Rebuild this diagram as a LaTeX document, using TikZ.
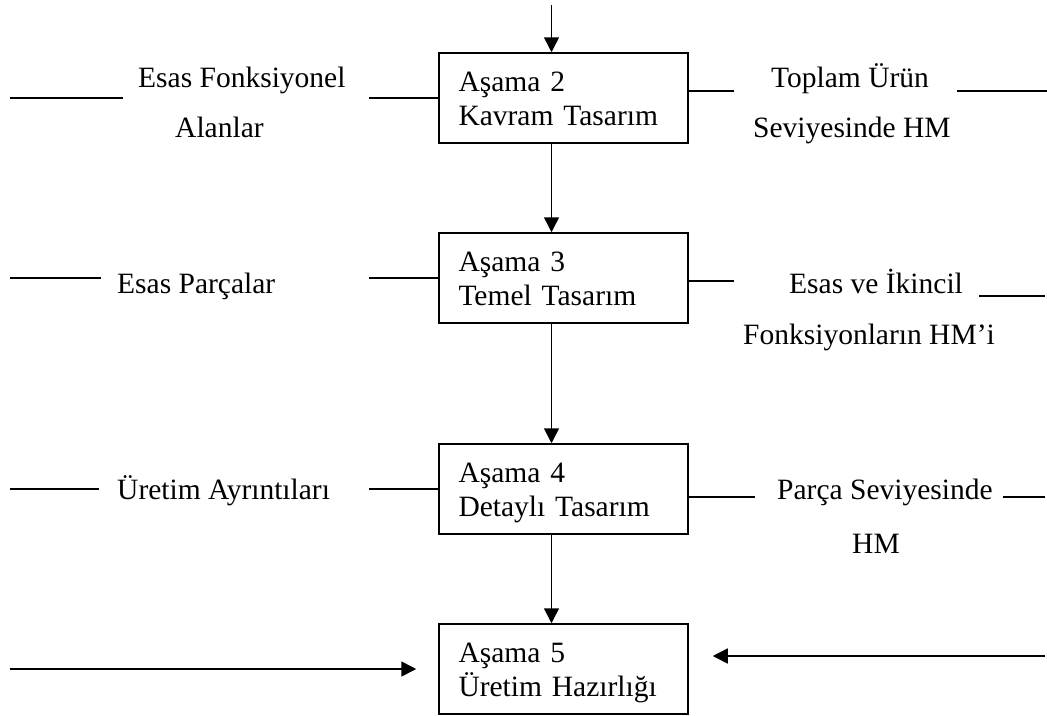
\documentclass[tikz,border=0pt]{standalone}
\usepackage{fontspec}
\setmainfont{Liberation Serif}
\usetikzlibrary{arrows.meta}
\begin{document}
\begin{tikzpicture}[x=1pt,y=-1pt,
  every node/.style={font=\fontsize{29.5}{34}\selectfont, inner sep=0pt},
  stagebox/.style={draw, line width=1.5pt, minimum width=249pt, minimum height=90pt,
    text width=210pt, align=left, text height=21pt, text depth=34pt},
  label/.style={anchor=base west},
  wire/.style={line width=1.5pt},
  arr/.style={wire, -{Triangle[length=15pt,width=15pt]}}]
\useasboundingbox (0,0) rectangle (1047,715);

% process stages
\node[stagebox] (b1) at (563.5,98)  {Aşama 2\\Kavram Tasarım};
\node[stagebox] (b2) at (563.5,278) {Aşama 3\\Temel Tasarım};
\node[stagebox] (b3) at (563.5,489) {Aşama 4\\Detaylı Tasarım};
\node[stagebox] (b4) at (563.5,669) {Aşama 5\\Üretim Hazırlığı};

% vertical flow
\coordinate (top) at (551.5,5);
\draw[arr] (top) -- (top |- b1.north);
\draw[arr] (b1.south -| top) -- (b2.north -| top);
\draw[arr] (b2.south -| top) -- (b3.north -| top);
\draw[arr] (b3.south -| top) -- (b4.north -| top);

% inputs on the left
\node[label] (l1a) at (138,87)  {Esas Fonksiyonel};
\node[label] (l1b) at (175,137) {Alanlar};
\node[label] (l2)  at (117,293) {Esas Parçalar};
\node[label] (l3)  at (117,499) {Üretim Ayrıntıları};

\coordinate (l1s) at (10,98);  \coordinate (l1e) at (123,98);
\coordinate (l2s) at (10,278); \coordinate (l2e) at (101,278);
\coordinate (l3s) at (10,489); \coordinate (l3e) at (99,489);
\draw[wire] (l1s) -- (l1e);
\draw[wire] (l2s) -- (l2e);
\draw[wire] (l3s) -- (l3e);
\draw[wire] (b1.west) -- ++(-69,0);
\draw[wire] (b2.west) -- ++(-69,0);
\draw[wire] (b3.west) -- ++(-69,0);

% outputs on the right
\node[label] (r1a) at (771,87)  {Toplam Ürün};
\node[label] (r1b) at (753,137) {Seviyesinde HM};
\node[label] (r2a) at (789,293) {Esas ve İkincil};
\node[label] (r2b) at (743,344) {Fonksiyonların HM’i};
\node[label] (r3a) at (777,499) {Parça Seviyesinde};
\node[label] (r3b) at (852,553) {HM};

\draw[wire] ([yshift=7pt]b1.east) -- ++(45,0);
\draw[wire] ([yshift=-3pt]b2.east) -- ++(45,0);
\draw[wire] ([yshift=-8pt]b3.east) -- ++(66,0);
\coordinate (r1s) at (957,91);  \coordinate (r1e) at (1047,91);
\coordinate (r2s) at (979,296); \coordinate (r2e) at (1045,296);
\coordinate (r3s) at (1003,497); \coordinate (r3e) at (1045,497);
\draw[wire] (r1s) -- (r1e);
\draw[wire] (r2s) -- (r2e);
\draw[wire] (r3s) -- (r3e);

% arrows into the last stage
\coordinate (in4) at (10,669);
\coordinate (out4) at (1045,656);
\draw[arr] (in4) -- ([xshift=-22pt]b4.west);
\draw[arr] (out4) -- ([xshift=24pt,yshift=13pt]b4.east);
\end{tikzpicture}
\end{document}
